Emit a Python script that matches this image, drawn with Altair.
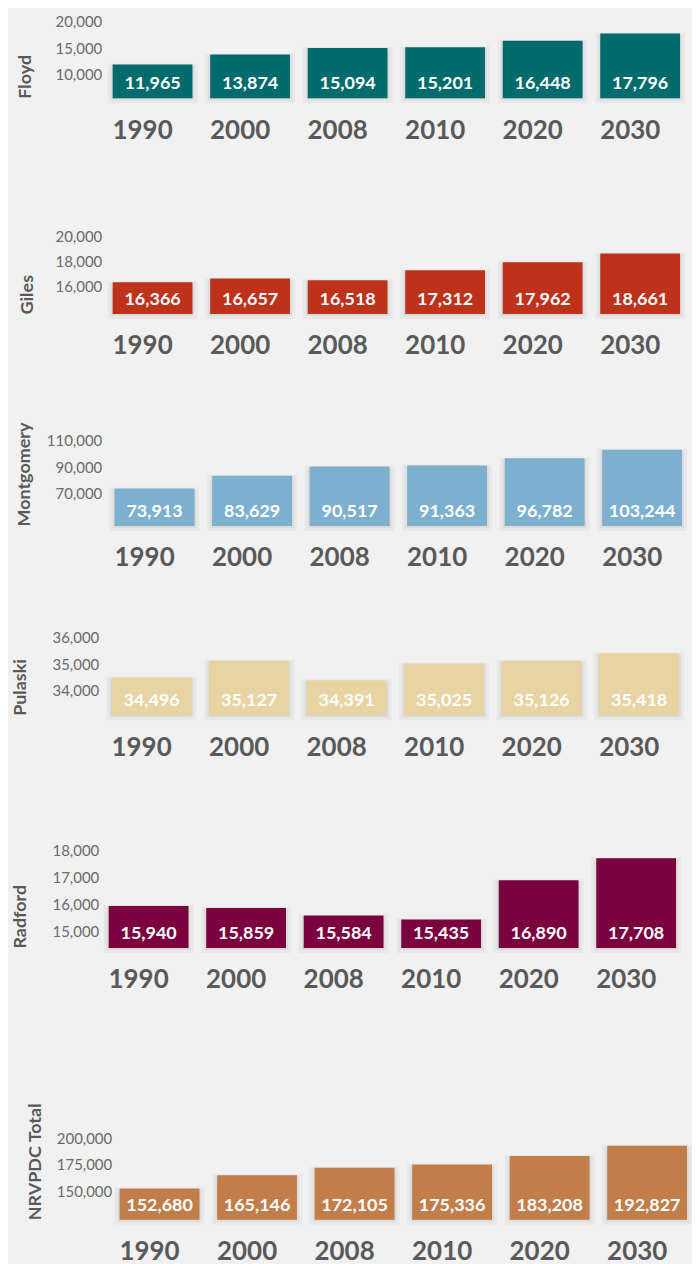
import altair as alt
import pandas as pd

years = ["1990", "2000", "2008", "2010", "2020", "2030"]
names = ["Floyd", "Giles", "Montgomery", "Pulaski", "Radford", "NRVPDC Total"]
floyd = [11965, 13874, 15094, 15201, 16448, 17796]
giles = [16366, 16657, 16518, 17312, 17962, 18661]
montgomery = [73913, 83629, 90517, 91363, 96782, 103244]
pulaski = [34496, 35127, 34391, 35025, 35126, 35418]
radford = [15940, 15859, 15584, 15435, 16890, 17708]
total = [152680, 165146, 172105, 175336, 183208, 192827]

floyd_ticks = [10000, 15000, 20000]
giles_ticks = [16000, 18000, 20000]
montgomery_ticks = [70000, 90000, 110000]
pulaski_ticks = [34000, 35000, 36000]
radford_ticks = [15000, 16000, 17000, 18000]
total_ticks = [150000, 175000, 200000]

colors = ["#006B6C", "#BE311B", "#7DAFCE", "#E8D4A2", "#7A003E", "#C17D4A"]

FONT = "Lato"
TEXT = "#595959"
W = 586.8
P = 1 - 80 / 97.8

# per-panel layout: (domain lo, domain hi, height, x range start, axis offset, titleX)
layout = [
    (5625, 20000, 76.67, 4.1, -2, -76),
    (13816, 23096, 116.0, 4.1, -2, -74.5),
    (45508, 130563, 112.7, 6.1, -2, -77),
    (33049, 36453, 89.6, 3.1, 1, -78),
    (14380, 19287, 133.0, 0.1, 1, -78),
    (123404, 284822, 172.4, 11.1, -12, -76),
]

series = [floyd, giles, montgomery, pulaski, radford, total]
ticks = [floyd_ticks, giles_ticks, montgomery_ticks, pulaski_ticks, radford_ticks, total_ticks]


def panel(name, vals, tks, color, lay):
    lo, hi, h, r0, off, tx = lay
    df = pd.DataFrame({"year": years, "value": vals})
    xscale = alt.Scale(range=[r0, r0 + W], paddingInner=P, paddingOuter=P / 2)
    xaxis = alt.Axis(
        title=None, labelAngle=0, labelFont=FONT, labelFontSize=26,
        labelFontWeight="bold", labelColor=TEXT, labelPadding=19,
        labelOffset=-10, domain=False, ticks=False, tickSize=0,
    )
    yaxis = alt.Axis(
        values=tks, tickCount=10, format=",.0f", title=name, domain=False,
        ticks=False, tickSize=0, grid=False, labelFont=FONT, labelFontSize=15,
        labelColor="#6A6A6A", labelPadding=0, offset=off, labelOverlap=False,
        titleFont=FONT, titleFontSize=18, titleFontWeight="bold",
        titleColor=TEXT, titleAngle=270, titleAlign="left",
        titleBaseline="middle", titleX=tx, titleY=h,
    )
    x_enc = alt.X("year:N", sort=years, scale=xscale, axis=xaxis)
    y_enc = alt.Y("value:Q", scale=alt.Scale(domain=[lo, hi], zero=False, nice=False), axis=yaxis)
    shadow1 = alt.Chart(df).mark_bar(
        fill="#000000", fillOpacity=0.05, stroke="#000000", strokeOpacity=0.035,
        strokeWidth=10, yOffset=4,
    ).encode(x=x_enc, y=y_enc, y2=alt.datum(lo))
    shadow2 = alt.Chart(df).mark_bar(
        fill="#000000", fillOpacity=0.05, stroke="#000000", strokeOpacity=0.05,
        strokeWidth=4, yOffset=3,
    ).encode(x=x_enc, y=y_enc, y2=alt.datum(lo))
    bars = alt.Chart(df).mark_bar(color=color).encode(
        x=x_enc, y=y_enc, y2=alt.datum(lo),
    )
    labels = alt.Chart(df).mark_text(
        font=FONT, fontSize=18, fontWeight="bold", color="white",
        baseline="alphabetic", dy=-9,
    ).encode(
        x=alt.X("year:N", sort=years),
        y=alt.datum(lo),
        text=alt.Text("value:Q", format=",.0f"),
    )
    return alt.layer(shadow1, shadow2, bars, labels).properties(width=590, height=h)


panels = [panel(n, v, t, c, l) for n, v, t, c, l in zip(names, series, ticks, colors, layout)]

chart = alt.vconcat(*panels, spacing=100, bounds="flush").properties(
    background="#F1F1F1",
    padding={"left": 3, "top": 5, "right": 0, "bottom": 0},
).configure_view(stroke=None)

chart.save("out.html", embed_options={"renderer": "svg", "actions": False})
